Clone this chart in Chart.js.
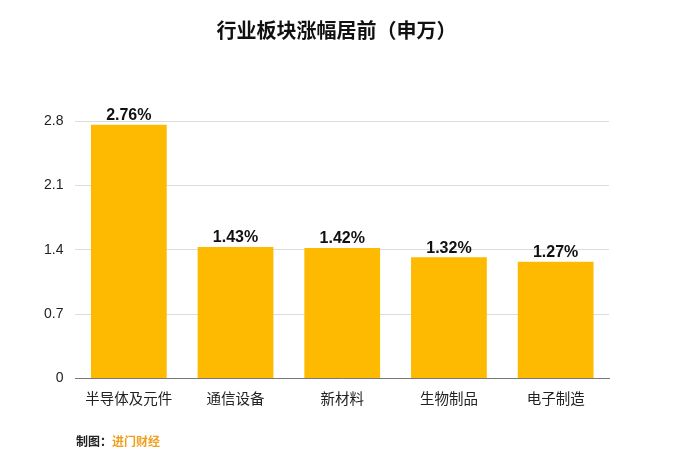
<!DOCTYPE html>
<html>
<head>
<meta charset="utf-8">
<script src="https://cdn.jsdelivr.net/npm/chart.js@4"></script>
<style>
  body { margin: 0; background: #fff; }
  #wrap { position: relative; width: 673px; height: 467px; }
  #footer { position: absolute; left: 76px; top: 432px; font: bold 12px "Liberation Sans", "Noto Sans CJK SC", sans-serif; color: #222; }
  #footer span { color: #f0a020; }
</style>
</head>
<body>
<div id="wrap">
  <canvas id="myChart" width="673" height="467"></canvas>
  <div id="footer">制图：<span>进门财经</span></div>
</div>
<script>
const fontFamily = '"Liberation Sans", "Noto Sans CJK SC", sans-serif';

const labels = ["半导体及元件", "通信设备", "新材料", "生物制品", "电子制造"];
const values = [2.76, 1.43, 1.42, 1.32, 1.27];
const yTicks = [0, 0.7, 1.4, 2.1, 2.8];
const titleText = "行业板块涨幅居前（申万）";

// value labels above bars + title centred on the whole canvas
const topLabels = {
  id: "topLabels",
  afterDatasetsDraw(chart) {
    const ctx = chart.ctx;
    const meta = chart.getDatasetMeta(0);
    ctx.save();
    ctx.font = "bold 16px " + fontFamily;
    ctx.fillStyle = "#111";
    ctx.textAlign = "center";
    ctx.textBaseline = "bottom";
    meta.data.forEach((bar, i) => {
      ctx.fillText(values[i].toFixed(2) + "%", bar.x, bar.y - 1);
    });
    ctx.font = "bold 20px " + fontFamily;
    ctx.textBaseline = "middle";
    ctx.fillText(titleText, chart.width / 2, 32);
    ctx.restore();
  }
};

const ctx = document.getElementById("myChart").getContext("2d");

const data = {
  labels,
  datasets: [
    {
      data: values,
      backgroundColor: "#fdba00",
      barPercentage: 0.71,
      categoryPercentage: 1,
    },
  ],
};

const config = {
  type: "bar",
  data: data,
  plugins: [topLabels],
  options: {
    responsive: false,
    animation: false,
    layout: { padding: { left: 32, right: 64, top: 121, bottom: 53 } },
    plugins: {
      legend: { display: false },
      tooltip: { enabled: false },
    },
    scales: {
      x: {
        grid: { display: false },
        border: { color: "#777" },
        ticks: { color: "#222", font: { family: fontFamily, size: 14.5 }, padding: 5 },
      },
      y: {
        min: 0,
        max: 2.8,
        afterBuildTicks(axis) {
          axis.ticks = yTicks.map(v => ({ value: v }));
        },
        grid: { color: "#dcdcdc", drawTicks: false },
        border: { display: false },
        ticks: {
          color: "#222",
          font: { family: fontFamily, size: 14 },
          padding: 12,
          callback: v => String(v),
        },
      },
    },
  },
};

const myChart = new Chart(ctx, config);
</script>
</body>
</html>
